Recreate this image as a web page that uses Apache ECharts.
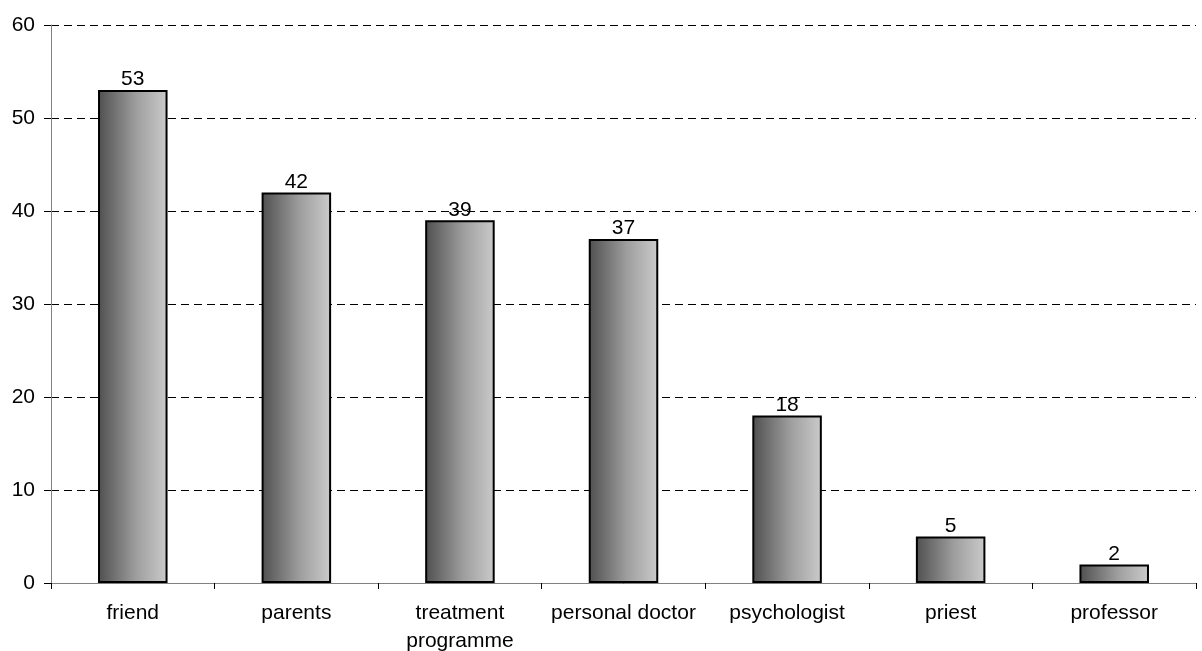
<!DOCTYPE html>
<html>
<head>
<meta charset="utf-8">
<script src="https://cdn.jsdelivr.net/npm/echarts@6/dist/echarts.min.js"></script>
<style>
  html, body { margin: 0; padding: 0; background: #fff; }
  #chart { width: 1202px; height: 651px; }
</style>
</head>
<body>
<div id="chart"></div>
<script>
// Who respondents turned to for help
const categories = ['friend', 'parents', 'treatment\nprogramme', 'personal doctor', 'psychologist', 'priest', 'professor'];
const counts = [53, 42, 39, 37, 18, 5, 2];
const yTicks = [0, 10, 20, 30, 40, 50, 60];

const font = 'Liberation Sans, Arial, sans-serif';
const chart = echarts.init(document.getElementById('chart'));

chart.setOption({
  animation: false,
  grid: { left: 51, right: 6, top: 25, bottom: 68, containLabel: false, outerBoundsMode: 'none' },
  xAxis: {
    type: 'category',
    data: categories,
    axisLine: { show: true, lineStyle: { color: '#808080', width: 1 } },
    axisTick: { show: true, inside: false, length: 6, alignWithLabel: false, lineStyle: { color: '#000' } },
    axisLabel: { color: '#000', fontFamily: font, fontSize: 21, margin: 16, lineHeight: 28, interval: 0 },
    splitLine: { show: false }
  },
  yAxis: {
    type: 'value',
    min: yTicks[0],
    max: yTicks[yTicks.length - 1],
    interval: 10,
    axisLine: { show: true, lineStyle: { color: '#808080', width: 1 } },
    axisTick: { show: true, length: 7, lineStyle: { color: '#000' } },
    axisLabel: { color: '#000', fontFamily: font, fontSize: 21, margin: 16 },
    splitLine: { show: true, lineStyle: { color: '#000', type: [8, 5], width: 1 } }
  },
  series: [{
    type: 'bar',
    data: counts,
    barWidth: '42.5%',
    itemStyle: {
      color: new echarts.graphic.LinearGradient(0, 0, 1, 0, [
        { offset: 0, color: '#4f4f4f' },
        { offset: 0.55, color: '#9e9e9e' },
        { offset: 1, color: '#cbcbcb' }
      ]),
      borderColor: '#000',
      borderWidth: 2
    },
    label: {
      show: true,
      position: 'top',
      distance: 0,
      color: '#000',
      fontFamily: font,
      fontSize: 21
    }
  }]
});
</script>
</body>
</html>
